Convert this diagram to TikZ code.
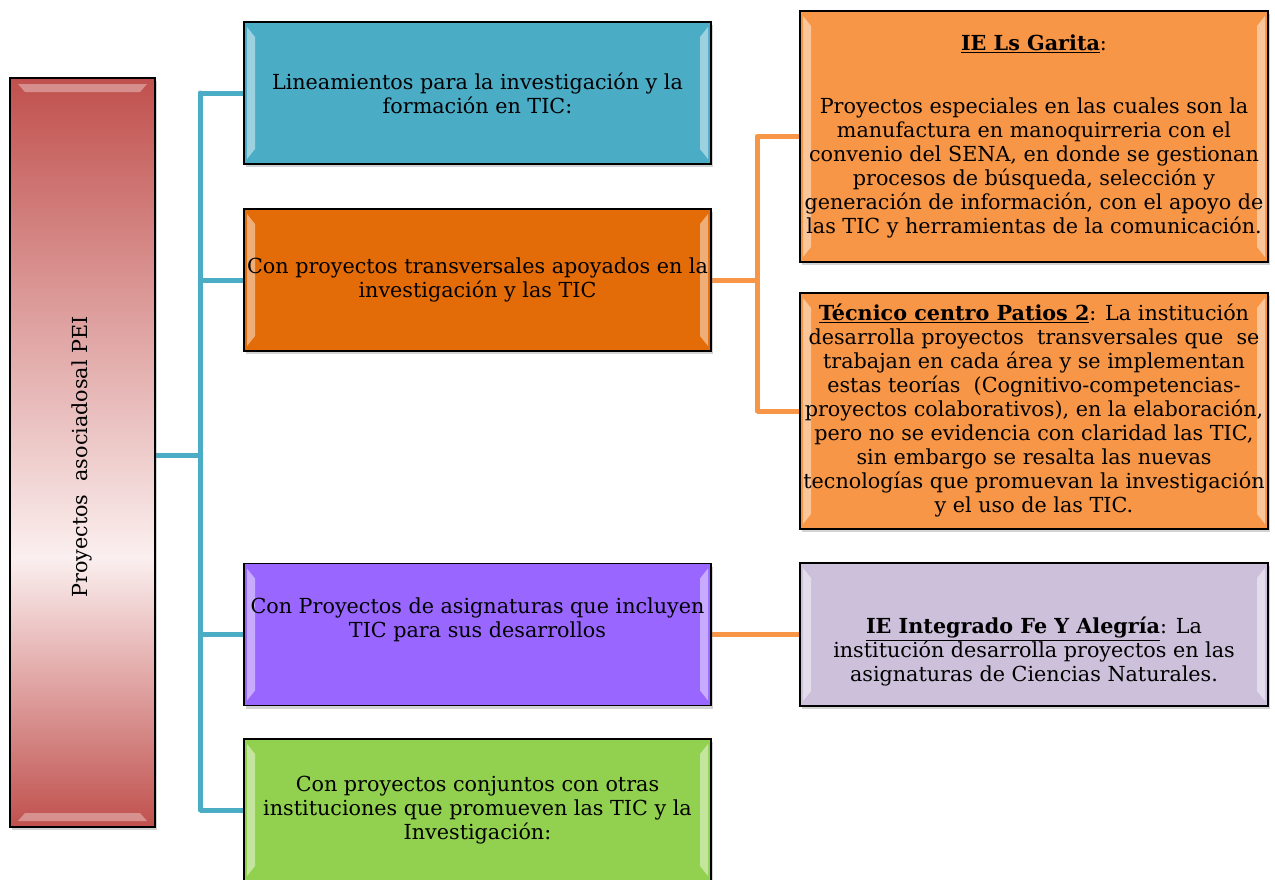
\documentclass[tikz,border=0pt]{standalone}
\usepackage{fontspec}
\setmainfont{DejaVu Serif}
\usetikzlibrary{shadows,backgrounds,calc}
\definecolor{cblue}{HTML}{4BACC6}
\definecolor{corangeD}{HTML}{E36C09}
\definecolor{corange}{HTML}{F79646}
\definecolor{cpurple}{HTML}{9966FF}
\definecolor{cgreen}{HTML}{92D050}
\definecolor{clilac}{HTML}{CCC0DA}
\definecolor{cred}{HTML}{C0504D}
\definecolor{credL}{HTML}{FBEFEF}
\pgfdeclareverticalshading{redbar}{100bp}{color(0bp)=(cred); color(25bp)=(cred); color(43bp)=(credL); color(75bp)=(cred); color(100bp)=(cred)}
\tikzset{
  txt/.style={font=\fontsize{20.7}{24}\selectfont, align=center},
  boxbase/.style={draw=black, line width=1.4pt, rectangle, inner sep=0pt,
    drop shadow={shadow xshift=2pt, shadow yshift=-3pt, opacity=.35},
    path picture={
      \fill[white,opacity=.45] ($(path picture bounding box.north west)+(3pt,-5pt)$) -- ($(path picture bounding box.north west)+(11pt,-15pt)$) -- ($(path picture bounding box.south west)+(11pt,15pt)$) -- ($(path picture bounding box.south west)+(3pt,5pt)$) -- cycle;
      \fill[white,opacity=.45] ($(path picture bounding box.north east)+(-3pt,-5pt)$) -- ($(path picture bounding box.north east)+(-11pt,-15pt)$) -- ($(path picture bounding box.south east)+(-11pt,15pt)$) -- ($(path picture bounding box.south east)+(-3pt,5pt)$) -- cycle;
    }},
  midbox/.style={boxbase, txt, minimum width=467pt, minimum height=142pt},
  rbox/.style={boxbase, txt, minimum width=468pt},
  blueline/.style={draw=cblue, line width=5pt},
  orangeline/.style={draw=corange, line width=5pt},
}
\begin{document}
\begin{tikzpicture}[x=1pt,y=-1pt]
\useasboundingbox (0,0) rectangle (1275,879);
% left box
\node[draw=black, line width=1.4pt, rectangle, minimum width=145pt, minimum height=749pt, shading=redbar,
  drop shadow={shadow xshift=2pt, shadow yshift=-3pt, opacity=.35}] (L) at (82.5,452.5) {};
\fill[white,opacity=.35] (18,84) -- (147,84) -- (140,92) -- (25,92) -- cycle;
\fill[white,opacity=.35] (18,821) -- (147,821) -- (140,813) -- (25,813) -- cycle;
\node[txt, rotate=90] (Lt) at (82,457) {Proyectos\ \ asociadosal PEI};
% middle boxes
\node[midbox, fill=cblue] (B1) at (477.5,93) {Lineamientos para la investigación y la\\formación en TIC:};
\node[midbox, fill=corangeD] (B2) at (477.5,280) {Con proyectos transversales apoyados en la\\investigación y las TIC};
\node[midbox, fill=cpurple] (B3) at (477.5,634.5) {Con Proyectos de asignaturas que incluyen\\TIC para sus desarrollos\\[10pt]};
\node[midbox, fill=cgreen] (B4) at (477.5,810) {Con proyectos conjuntos con otras\\instituciones que promueven las TIC y la\\Investigación:};
% right boxes
\node[rbox, fill=corange, minimum height=251pt] (RA) at (1034,136.5) {\underline{\textbf{IE Ls Garita}}:\\[39pt]
Proyectos especiales en las cuales son la\\
manufactura en manoquirreria con el\\
convenio del SENA, en donde se gestionan\\
procesos de búsqueda, selección y\\
generación de información, con el apoyo de\\
las TIC y herramientas de la comunicación.};
\node[rbox, fill=corange, minimum height=236pt] (RB) at (1034,411) {\underline{\textbf{Técnico centro Patios 2}}: La institución\\
desarrolla proyectos\ \ transversales que\ \ se\\
trabajan en cada área y se implementan\\
estas teorías\ \ (Cognitivo-competencias-\\
proyectos colaborativos), en la elaboración,\\
pero no se evidencia con claridad las TIC,\\
sin embargo se resalta las nuevas\\
tecnologías que promuevan la investigación\\
y el uso de las TIC.};
\node[rbox, fill=clilac, minimum height=143pt] (RC) at (1034,634.5) {};
\node[txt] (RCt) at (1034,652) {\underline{\textbf{IE Integrado Fe Y Alegría}}: La\\
institución desarrolla proyectos en las\\
asignaturas de Ciencias Naturales.};
% connectors
\begin{scope}[on background layer]
\coordinate (bj) at (200,455);
\coordinate (oj) at (757,281);
\draw[blueline] (L.east |- bj) -- (bj);
\draw[blueline, line cap=round] (B1.west -| bj) -- (B4.west -| bj);
\draw[blueline] (B1.west -| bj) -- (B1.west);
\draw[blueline] (B2.west -| bj) -- (B2.west);
\draw[blueline] (B3.west -| bj) -- (B3.west);
\draw[blueline] (B4.west -| bj) -- (B4.west);
\draw[orangeline] (B2.east) -- (B2.east -| oj);
\draw[orangeline, line cap=round] (RA.west -| oj) -- (RB.west -| oj);
\draw[orangeline] (RA.west -| oj) -- (RA.west);
\draw[orangeline] (RB.west -| oj) -- (RB.west);
\draw[orangeline] (B3.east) -- (RC.west);
\end{scope}
\end{tikzpicture}
\end{document}
